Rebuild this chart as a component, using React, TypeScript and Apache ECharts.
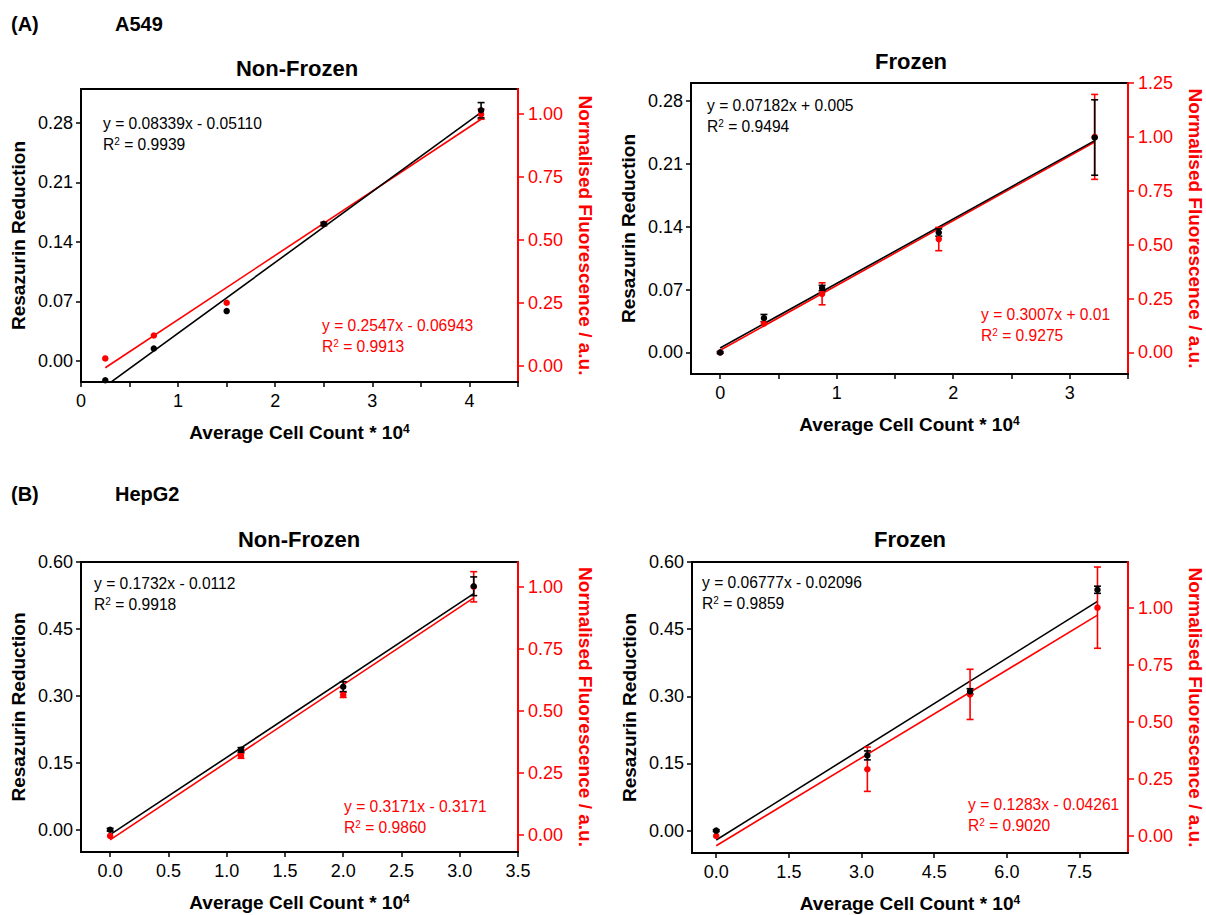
import React, { useEffect, useRef } from 'react';
import * as echarts from 'echarts';

const FONT = '"Liberation Sans", Arial, Helvetica, sans-serif';
const RED = '#ff0000';
const BLACK = '#000000';

// ---------- Tick values / labels ----------
const xTicksA1 = [0, 0.5, 1, 1.5, 2, 2.5, 3, 3.5, 4, 4.5];
const xLabelsA1 = [0, 1, 2, 3, 4];
const xTicksA2 = [0, 0.5, 1, 1.5, 2, 2.5, 3, 3.5];
const xLabelsA2 = [0, 1, 2, 3];
const xTicksB1 = [0, 0.5, 1, 1.5, 2, 2.5, 3, 3.5];
const xLabelsB1 = [0, 0.5, 1, 1.5, 2, 2.5, 3, 3.5];
const xTicksB2 = [0, 1.5, 3, 4.5, 6, 7.5];
const xLabelsB2 = [0, 1.5, 3, 4.5, 6, 7.5];
const resTicksA = [0, 0.07, 0.14, 0.21, 0.28];
const resTicksB = [0, 0.15, 0.3, 0.45, 0.6];
const fluorTicksA1 = [0, 0.25, 0.5, 0.75, 1.0];
const fluorTicksA2 = [0, 0.25, 0.5, 0.75, 1.0, 1.25];
const fluorTicksB = [0, 0.25, 0.5, 0.75, 1.0];

// ---------- A549 Non-Frozen ----------
const a1CellCount = [0.25, 0.75, 1.5, 2.5, 4.12];
const a1Resazurin = [-0.023, 0.0145, 0.0585, 0.161, 0.295];
const a1ResazurinErr = [0, 0, 0, 0.002, 0.009];
const a1Fluor = [0.031, 0.122, 0.252, 0.565, 1.0];
const a1FluorErr = [0, 0, 0, 0, 0.02];
const a1FitX = [0.25, 4.12];
const a1FitBlack = [-0.030, 0.2925];
const a1FitRed = [-0.006, 0.98];

// ---------- A549 Frozen ----------
const a2CellCount = [0, 0.376, 0.875, 1.876, 3.214];
const a2Resazurin = [0, 0.0383, 0.0717, 0.1335, 0.2393];
const a2ResazurinErr = [0.001, 0.004, 0.003, 0.004, 0.042];
const a2Fluor = [0, 0.135, 0.272, 0.526, 1.0];
const a2FluorErr = [0, 0, 0.051, 0.054, 0.197];
const a2FitX = [0, 3.214];
const a2FitBlack = [0.005, 0.2358];
const a2FitRed = [0.01, 0.976];

// ---------- HepG2 Non-Frozen ----------
const b1CellCount = [0, 1.123, 2.0, 3.12];
const b1Resazurin = [0, 0.179, 0.3205, 0.5456];
const b1ResazurinErr = [0.003, 0.005, 0.011, 0.021];
const b1Fluor = [-0.005, 0.318, 0.5636, 1.0];
const b1FluorErr = [0, 0.01, 0.01, 0.061];
const b1FitX = [0, 3.12];
const b1FitBlack = [-0.011, 0.529];
const b1FitRed = [-0.021, 0.955];

// ---------- HepG2 Frozen ----------
const b2CellCount = [0, 3.12, 5.24, 7.87];
const b2Resazurin = [0, 0.168, 0.311, 0.538];
const b2ResazurinErr = [0.002, 0.01, 0.006, 0.008];
const b2Fluor = [0, 0.292, 0.62, 1.0];
const b2FluorErr = [0, 0.097, 0.11, 0.178];
const b2FitX = [0, 7.87];
const b2FitBlack = [-0.021, 0.512];
const b2FitRed = [-0.043, 0.967];

// ---------- Equation texts ----------
const eqBlack = ['y = 0.08339x - 0.05110', 'y = 0.07182x + 0.005', 'y = 0.1732x - 0.0112', 'y = 0.06777x - 0.02096'];
const r2Black = ['0.9939', '0.9494', '0.9918', '0.9859'];
const eqRed = ['y = 0.2547x - 0.06943', 'y = 0.3007x + 0.01', 'y = 0.3171x - 0.3171', 'y = 0.1283x - 0.04261'];
const r2Red = ['0.9913', '0.9275', '0.9860', '0.9020'];
const panelTitles = ['Non-Frozen', 'Frozen', 'Non-Frozen', 'Frozen'];

const panelData = [
  { x: a1CellCount, res: a1Resazurin, resErr: a1ResazurinErr, fl: a1Fluor, flErr: a1FluorErr, fitX: a1FitX, fitB: a1FitBlack, fitR: a1FitRed },
  { x: a2CellCount, res: a2Resazurin, resErr: a2ResazurinErr, fl: a2Fluor, flErr: a2FluorErr, fitX: a2FitX, fitB: a2FitBlack, fitR: a2FitRed },
  { x: b1CellCount, res: b1Resazurin, resErr: b1ResazurinErr, fl: b1Fluor, flErr: b1FluorErr, fitX: b1FitX, fitB: b1FitBlack, fitR: b1FitRed },
  { x: b2CellCount, res: b2Resazurin, resErr: b2ResazurinErr, fl: b2Fluor, flErr: b2FluorErr, fitX: b2FitX, fitB: b2FitBlack, fitR: b2FitRed },
];

// ---------- Layout (positions / scales) ----------
const layout = [
  { grid: { left: 81, top: 89, width: 437, height: 293 }, x: [0, 4.5], xTicks: xTicksA1, xLabels: xLabelsA1, xDec: 0,
    yl: [-0.025, 0.32], ylTicks: resTicksA, yr: [-0.0625, 1.1], yrTicks: fluorTicksA1,
    title: [297, 68], eqB: [103, 123], eqR: [322, 325] },
  { grid: { left: 691, top: 83, width: 438, height: 291 }, x: [-0.25, 3.5], xTicks: xTicksA2, xLabels: xLabelsA2, xDec: 0,
    yl: [-0.024, 0.3], ylTicks: resTicksA, yr: [-0.1, 1.25], yrTicks: fluorTicksA2,
    title: [911, 61], eqB: [707, 105], eqR: [981, 314] },
  { grid: { left: 81, top: 562, width: 437, height: 290 }, x: [-0.25, 3.5], xTicks: xTicksB1, xLabels: xLabelsB1, xDec: 1,
    yl: [-0.05, 0.6], ylTicks: resTicksB, yr: [-0.07, 1.1], yrTicks: fluorTicksB,
    title: [299, 539], eqB: [94, 583], eqR: [344, 806] },
  { grid: { left: 692, top: 562, width: 437, height: 291 }, x: [-0.5, 8.5], xTicks: xTicksB2, xLabels: xLabelsB2, xDec: 1,
    yl: [-0.05, 0.6], ylTicks: resTicksB, yr: [-0.075, 1.2], yrTicks: fluorTicksB,
    title: [910, 539], eqB: [702, 582], eqR: [968, 804] },
];

const supRich = (size: number, color: string, weight: string) => ({
  sup: { fontSize: size, fontFamily: FONT, color, fontWeight: weight, verticalAlign: 'top', lineHeight: 10 },
});

function errorBarSeries(xs: number[], ys: number[], es: number[], color: string, xi: number, yi: number) {
  return {
    type: 'custom',
    xAxisIndex: xi,
    yAxisIndex: yi,
    data: xs.map((x, k) => [x, ys[k], es[k]]),
    renderItem: (params: any, api: any) => {
      const x = api.value(0);
      const y = api.value(1);
      const e = api.value(2);
      if (!e) return { type: 'group', children: [] };
      const top = api.coord([x, y + e]);
      const bot = api.coord([x, y - e]);
      const cap = 3.5;
      const st = { stroke: color, lineWidth: 1.6 };
      return {
        type: 'group',
        children: [
          { type: 'line', shape: { x1: top[0], y1: top[1], x2: bot[0], y2: bot[1] }, style: st },
          { type: 'line', shape: { x1: top[0] - cap, y1: top[1], x2: top[0] + cap, y2: top[1] }, style: st },
          { type: 'line', shape: { x1: bot[0] - cap, y1: bot[1], x2: bot[0] + cap, y2: bot[1] }, style: st },
        ],
      };
    },
    z: 3,
  };
}

function buildOption() {
  const grids: any[] = [];
  const xAxes: any[] = [];
  const yAxes: any[] = [];
  const series: any[] = [];
  const graphics: any[] = [];

  layout.forEach((L, i) => {
    const D = panelData[i];
    grids.push({ ...L.grid, show: true, borderColor: BLACK, borderWidth: 2, backgroundColor: 'transparent', containLabel: false });
    xAxes.push({
      type: 'value', gridIndex: i, min: L.x[0], max: L.x[1], position: 'bottom',
      axisLine: { show: true, onZero: false, lineStyle: { color: BLACK, width: 2 } },
      axisTick: { show: true, inside: false, length: 5, lineStyle: { color: BLACK, width: 1.5 }, customValues: L.xTicks },
      axisLabel: { show: true, margin: 10, color: BLACK, fontFamily: FONT, fontSize: 18, customValues: L.xLabels,
        formatter: (v: number) => v.toFixed(L.xDec) },
      splitLine: { show: false },
      name: 'Average Cell Count * 10{sup|4}', nameLocation: 'middle', nameGap: 41,
      nameTextStyle: { fontFamily: FONT, fontSize: 19, fontWeight: 'bold', color: BLACK, rich: supRich(12, BLACK, 'bold') },
    });
    yAxes.push({
      type: 'value', gridIndex: i, min: L.yl[0], max: L.yl[1], position: 'left',
      axisLine: { show: true, onZero: false, lineStyle: { color: BLACK, width: 2 } },
      axisTick: { show: true, inside: false, length: 5, lineStyle: { color: BLACK, width: 1.5 }, customValues: L.ylTicks },
      axisLabel: { show: true, margin: 8, color: BLACK, fontFamily: FONT, fontSize: 18, customValues: L.ylTicks,
        formatter: (v: number) => v.toFixed(2) },
      splitLine: { show: false },
      name: 'Resazurin Reduction', nameLocation: 'middle', nameGap: 53, nameRotate: 90,
      nameTextStyle: { fontFamily: FONT, fontSize: 19, fontWeight: 'bold', color: BLACK },
    });
    yAxes.push({
      type: 'value', gridIndex: i, min: L.yr[0], max: L.yr[1], position: 'right',
      axisLine: { show: true, onZero: false, lineStyle: { color: RED, width: 2 } },
      axisTick: { show: true, inside: false, length: 6, lineStyle: { color: RED, width: 1.5 }, customValues: L.yrTicks },
      axisLabel: { show: true, margin: 10, color: RED, fontFamily: FONT, fontSize: 18, customValues: L.yrTicks,
        formatter: (v: number) => v.toFixed(2) },
      splitLine: { show: false },
      name: 'Normalised Fluorescence / a.u.', nameLocation: 'middle', nameGap: 58, nameRotate: -90,
      nameTextStyle: { fontFamily: FONT, fontSize: 19, fontWeight: 'bold', color: RED },
    });

    const yl = 2 * i;
    const yr = 2 * i + 1;
    series.push({
      type: 'line', xAxisIndex: i, yAxisIndex: yr, showSymbol: false, symbol: 'none', clip: true,
      data: D.fitX.map((x, k) => [x, D.fitR[k]]), lineStyle: { color: RED, width: 1.6 }, z: 2,
    });
    series.push({
      type: 'line', xAxisIndex: i, yAxisIndex: yl, showSymbol: false, symbol: 'none', clip: true,
      data: D.fitX.map((x, k) => [x, D.fitB[k]]), lineStyle: { color: BLACK, width: 1.6 }, z: 2,
    });
    series.push(errorBarSeries(D.x, D.fl, D.flErr, RED, i, yr));
    series.push({
      type: 'scatter', xAxisIndex: i, yAxisIndex: yr, symbol: 'circle', symbolSize: 6.5,
      itemStyle: { color: RED, opacity: 1 }, data: D.x.map((x, k) => [x, D.fl[k]]), z: 4,
    });
    series.push(errorBarSeries(D.x, D.res, D.resErr, BLACK, i, yl));
    series.push({
      type: 'scatter', xAxisIndex: i, yAxisIndex: yl, symbol: 'circle', symbolSize: 6.5,
      itemStyle: { color: BLACK, opacity: 1 }, data: D.x.map((x, k) => [x, D.res[k]]), z: 5,
    });

    graphics.push({
      type: 'text', x: L.title[0], y: L.title[1],
      style: { text: panelTitles[i], fontFamily: FONT, fontSize: 22, fontWeight: 'bold', fill: BLACK, textAlign: 'center', textVerticalAlign: 'middle' },
    });
    const eqStyle = (color: string) => ({ fontFamily: FONT, fontSize: 15.6, fill: color, textAlign: 'left', textVerticalAlign: 'middle' });
    graphics.push({ type: 'text', x: L.eqB[0], y: L.eqB[1], style: { ...eqStyle(BLACK), text: eqBlack[i] } });
    graphics.push({ type: 'text', x: L.eqB[0], y: L.eqB[1] + 21,
      style: { ...eqStyle(BLACK), text: 'R{sup|2} = ' + r2Black[i], rich: supRich(10, BLACK, 'normal') } });
    graphics.push({ type: 'text', x: L.eqR[0], y: L.eqR[1], style: { ...eqStyle(RED), text: eqRed[i] } });
    graphics.push({ type: 'text', x: L.eqR[0], y: L.eqR[1] + 21,
      style: { ...eqStyle(RED), text: 'R{sup|2} = ' + r2Red[i], rich: supRich(10, RED, 'normal') } });
  });

  const labelStyle = { fontFamily: FONT, fontSize: 20, fontWeight: 'bold', fill: BLACK, textAlign: 'left', textVerticalAlign: 'middle' };
  graphics.push({ type: 'text', x: 11, y: 24, style: { ...labelStyle, text: '(A)' } });
  graphics.push({ type: 'text', x: 115, y: 24, style: { ...labelStyle, text: 'A549' } });
  graphics.push({ type: 'text', x: 11, y: 494, style: { ...labelStyle, text: '(B)' } });
  graphics.push({ type: 'text', x: 115, y: 494, style: { ...labelStyle, text: 'HepG2' } });

  return {
    animation: false,
    backgroundColor: '#ffffff',
    textStyle: { fontFamily: FONT },
    grid: grids,
    xAxis: xAxes,
    yAxis: yAxes,
    series,
    graphic: graphics,
  };
}

export default function App() {
  const ref = useRef<HTMLDivElement>(null);
  useEffect(() => {
    document.body.style.margin = '0';
    if (!ref.current) return;
    const chart = echarts.init(ref.current, undefined, { renderer: 'svg' });
    chart.setOption(buildOption() as any);
    return () => chart.dispose();
  }, []);
  return <div ref={ref} style={{ width: 1206, height: 915 }} />;
}
